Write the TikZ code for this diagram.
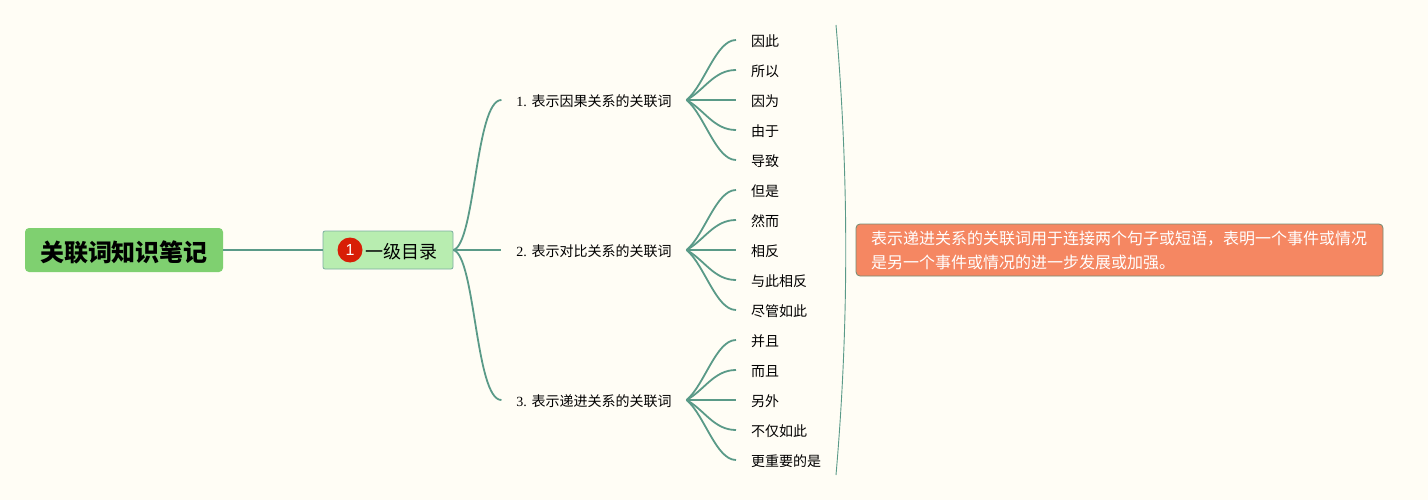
\documentclass[tikz,border=0pt]{standalone}
\usepackage{fontspec}
\setmainfont{Noto Sans CJK SC}
\newfontfamily\numfont{Liberation Serif}
\newfontfamily\badgefont{Liberation Sans}
\usetikzlibrary{positioning}
\usetikzlibrary{chains}
\definecolor{paper}{HTML}{FFFDF5}
\definecolor{linegreen}{HTML}{5A9A88}
\tikzset{
	rootbox/.style={
		rectangle,
		rounded corners=4pt,
		fill={rgb,255:red,127;green,208;blue,112},
		text=black,
		text height=23pt,
		text depth=1pt,
		font=\bfseries\fontsize{24}{28}\selectfont,
		minimum width=198pt,
		minimum height=44pt},
	mainbox/.style={
		rectangle,
		rounded corners=2pt,
		fill={rgb,255:red,184;green,237;blue,176},
		draw=linegreen!80, thick,
		text height=18pt,
		text depth=1pt,
		font=\fontsize{18}{22}\selectfont,
		minimum width=130pt,
		minimum height=38pt},
	badge/.style={
		circle,
		fill={rgb,255:red,216;green,30;blue,6},
		text=white,
		inner sep=0pt,
		minimum size=25pt,
		font=\badgefont\fontsize{16}{18}\selectfont},
	groupnode/.style={
		rectangle,
		outer sep=0pt,
		inner xsep=15pt,
		inner ysep=0pt,
		text height=14pt,
		text depth=1pt,
		minimum height=30pt,
		font=\fontsize{14}{18}\selectfont},
	leaf/.style={
		rectangle,
		outer sep=0pt,
		inner xsep=15pt,
		inner ysep=0pt,
		text width=70pt,
		text height=14pt,
		text depth=1pt,
		minimum height=30pt,
		font=\fontsize{14}{18}\selectfont,
		on chain},
	notebox/.style={
		rectangle,
		rounded corners=4pt,
		fill={rgb,255:red,245;green,135;blue,98},
		draw=gray!90!green, line width=0.8pt,
		text=white,
		inner xsep=15pt,
		inner ysep=0pt,
		text width=497pt,
		minimum height=52pt,
		font=\fontsize{16}{24}\selectfont},
	branch/.style={draw=linegreen, line width=1.8pt},
	bracket/.style={draw=linegreen, line width=0.9pt},
}
\begin{document}
\begin{tikzpicture}
		[x=1pt,y=-1pt,node distance=0pt,
		start chain=going below]
		\fill[paper] (0,0) rectangle (1428,500);
		\useasboundingbox (0,0) rectangle (1428,500);
		\node[rootbox] (root) at (124,250) {关联词知识笔记};
		\node[mainbox] (main) at (388,250) {\hspace*{26pt}一级目录};
		\node[badge] (one) at (350,250) {1};
		\node[groupnode] (yinguo) at (594,100) {{\numfont 1. }表示因果关系的关联词};
		\node[groupnode] (duibi) at (594,250) {{\numfont 2. }表示对比关系的关联词};
		\node[groupnode] (dijin) at (594,400) {{\numfont 3. }表示递进关系的关联词};
		\node[leaf] (a1) at (786,40) {因此};
		\node[leaf] (a2) {所以};
		\node[leaf] (a3) {因为};
		\node[leaf] (a4) {由于};
		\node[leaf] (a5) {导致};
		\node[leaf] (b1) {但是};
		\node[leaf] (b2) {然而};
		\node[leaf] (b3) {相反};
		\node[leaf] (b4) {与此相反};
		\node[leaf] (b5) {尽管如此};
		\node[leaf] (c1) {并且};
		\node[leaf] (c2) {而且};
		\node[leaf] (c3) {另外};
		\node[leaf] (c4) {不仅如此};
		\node[leaf] (c5) {更重要的是};
		\node[notebox] (note) at (1119.5,250) {表示递进关系的关联词用于连接两个句子或短语，表明一个事件或情况\\是另一个事件或情况的进一步发展或加强。};
		\coordinate (top) at (836,25);
		\coordinate (bottom) at (836,475);
		% first level
		\path[branch] (root.east) -- (main.west);
		\path[branch] (main.east) .. controls +(22,-6) and +(-26,0) .. (yinguo.west);
		\path[branch] (main.east) -- (duibi.west);
		\path[branch] (main.east) .. controls +(22,6) and +(-26,0) .. (dijin.west);
		% second level
		\path[branch] (yinguo.east) .. controls +(18,-15) and +(-20,0) .. (a1.west);
		\path[branch] (yinguo.east) .. controls +(18,-10) and +(-22,0) .. (a2.west);
		\path[branch] (yinguo.east) -- (a3.west);
		\path[branch] (yinguo.east) .. controls +(18,10) and +(-22,0) .. (a4.west);
		\path[branch] (yinguo.east) .. controls +(18,15) and +(-20,0) .. (a5.west);
		\path[branch] (duibi.east) .. controls +(18,-15) and +(-20,0) .. (b1.west);
		\path[branch] (duibi.east) .. controls +(18,-10) and +(-22,0) .. (b2.west);
		\path[branch] (duibi.east) -- (b3.west);
		\path[branch] (duibi.east) .. controls +(18,10) and +(-22,0) .. (b4.west);
		\path[branch] (duibi.east) .. controls +(18,15) and +(-20,0) .. (b5.west);
		\path[branch] (dijin.east) .. controls +(18,-15) and +(-20,0) .. (c1.west);
		\path[branch] (dijin.east) .. controls +(18,-10) and +(-22,0) .. (c2.west);
		\path[branch] (dijin.east) -- (c3.west);
		\path[branch] (dijin.east) .. controls +(18,10) and +(-22,0) .. (c4.west);
		\path[branch] (dijin.east) .. controls +(18,15) and +(-20,0) .. (c5.west);
		\path[bracket] (top) .. controls +(13,150) and +(13,-150) .. (bottom);
\end{tikzpicture}
\end{document}
